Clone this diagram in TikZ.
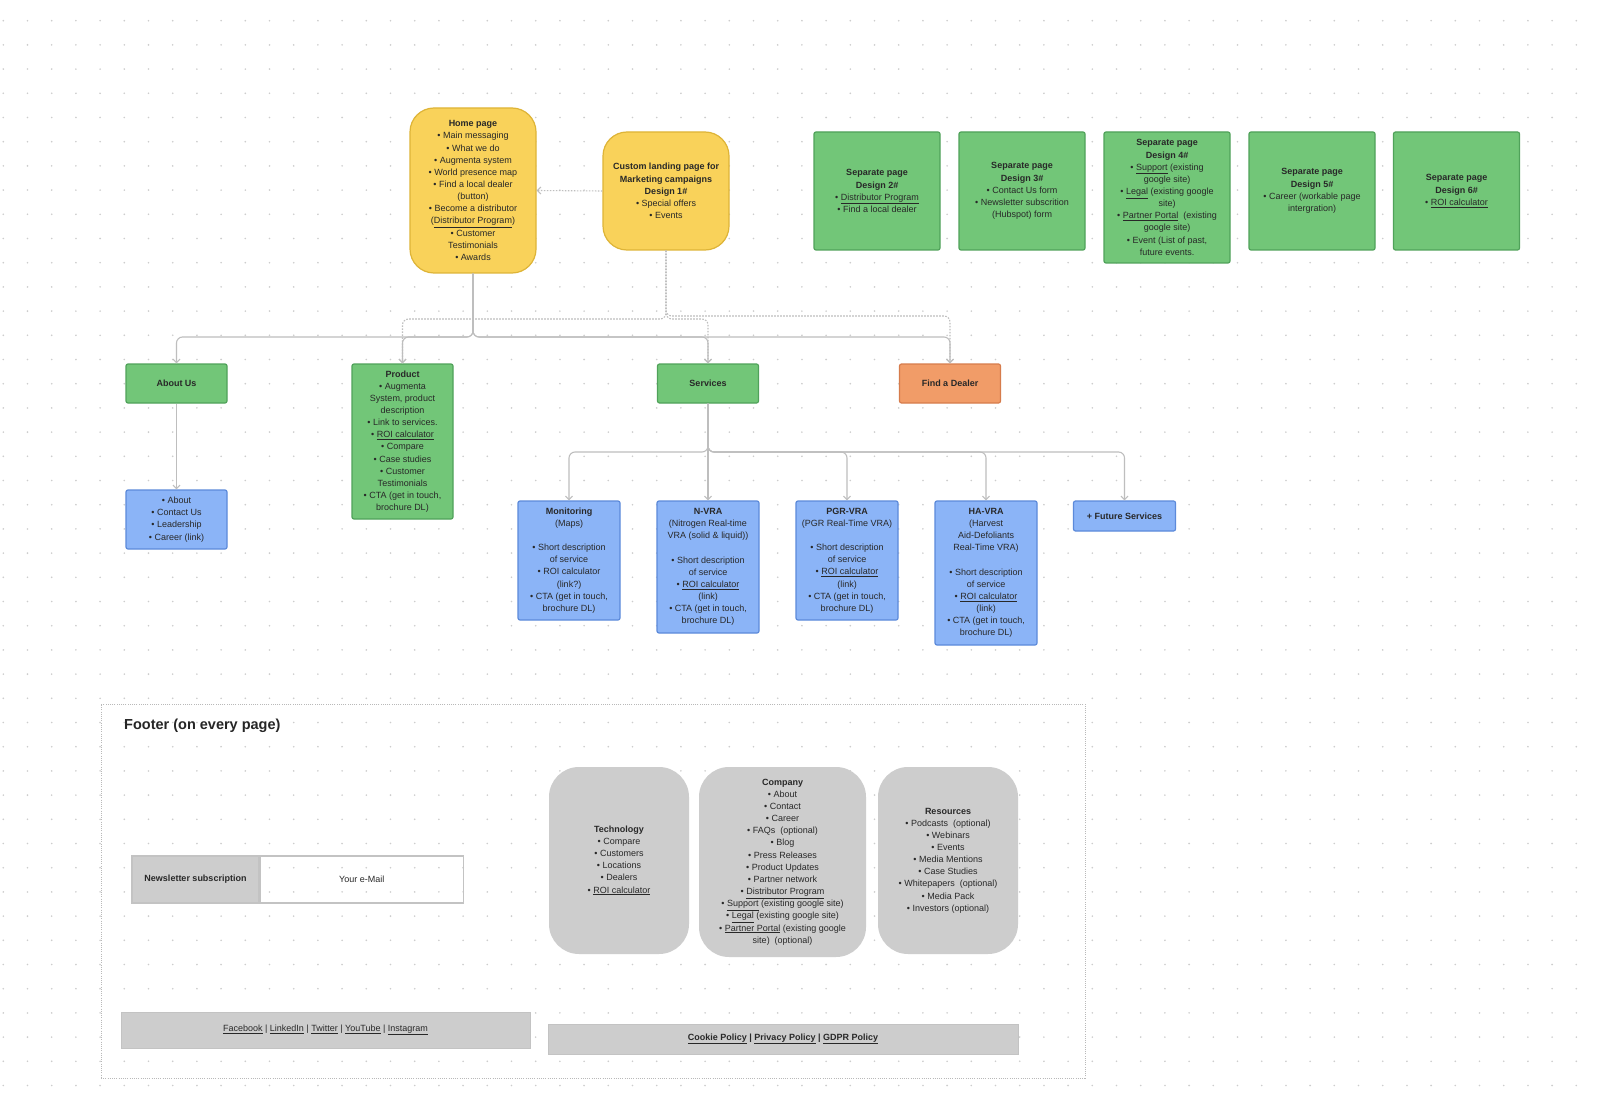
\documentclass[tikz,border=0pt]{standalone}
\usepackage{fontspec}
\setmainfont{Liberation Sans}
\usetikzlibrary{arrows.meta,calc}
\definecolor{dotc}{RGB}{205,205,205}
\definecolor{txt}{RGB}{40,40,40}
\definecolor{yelf}{RGB}{249,210,90}
\definecolor{yeld}{RGB}{222,180,55}
\definecolor{grnf}{RGB}{114,198,120}
\definecolor{grnd}{RGB}{80,162,90}
\definecolor{bluf}{RGB}{139,180,247}
\definecolor{blud}{RGB}{92,138,218}
\definecolor{orgf}{RGB}{241,156,104}
\definecolor{orgd}{RGB}{214,124,76}
\definecolor{gryf}{RGB}{205,205,205}
\definecolor{gryd}{RGB}{195,195,195}
\definecolor{linc}{RGB}{190,190,190}
\definecolor{frmc}{RGB}{185,185,185}
\newcommand\boxfnt{\fontsize{9}{12.15}\selectfont}
\newcommand\titlefnt{\fontsize{14.5}{17}\selectfont\bfseries}
\begin{document}
\begin{tikzpicture}[x=1pt,y=-1pt,
  box/.style={draw, line width=1.2pt, align=center, inner sep=2pt, font=\boxfnt, text=txt},
  yel/.style={box, fill=yelf, draw=yeld, rounded corners=24pt, minimum width=126pt},
  grn/.style={box, fill=grnf, draw=grnd, rounded corners=2pt},
  blu/.style={box, fill=bluf, draw=blud, rounded corners=2pt},
  org/.style={box, fill=orgf, draw=orgd, rounded corners=2pt},
  sepbox/.style={grn, minimum width=126pt, minimum height=118pt},
  navbox/.style={minimum width=101pt, minimum height=39pt},
  svcbox/.style={blu, minimum width=102pt},
  gbox/.style={fill=gryf, align=center, font=\boxfnt, text=txt, rounded corners=30pt, inner sep=2pt},
  barbox/.style={fill=gryf, draw=gryd, line width=0.8pt, align=center, font=\boxfnt, text=txt},
  conn/.style={draw=linc, line width=1.1pt, rounded corners=6pt, -{Straight Barb[length=3.5pt,width=7pt]}},
  dconn/.style={conn, dash pattern=on 1.6pt off 1.4pt}
]
\useasboundingbox (0,0) rectangle (1600,1099);
\fill[white] (0,0) rectangle (1600,1099);
\foreach \i in {0,...,65}{\foreach \j in {0,...,44}{\fill[dotc] (3.3+24.2*\i,20.7+24.2*\j) circle (0.9pt);}}

% top row
\node[yel, minimum height=165pt] (home) at (473,190.5) {\textbf{Home page}\\ • Main messaging\\ • What we do\\ • Augmenta system\\ • World presence map\\ • Find a local dealer\\ (button)\\ • Become a distributor\\ (\underline{Distributor Program})\\ • Customer\\ Testimonials\\ • Awards};
\node[yel, minimum height=118pt] (custom) at (666,191) {\textbf{Custom landing page for}\\ \textbf{Marketing campaigns}\\ \textbf{Design 1\#}\\ • Special offers\\ • Events};

\node[sepbox] (sep2) at (877,191) {\textbf{Separate page}\\ \textbf{Design 2\#}\\ • \underline{Distributor Program}\\ • Find a local dealer};
\node[sepbox] (sep3) at (1022,191) {\textbf{Separate page}\\ \textbf{Design 3\#}\\ • Contact Us form\\ • Newsletter subscrition\\ (Hubspot) form};
\node[sepbox, minimum height=131pt] (sep4) at (1167,197.5) {\textbf{Separate page}\\ \textbf{Design 4\#}\\ • \underline{Support} (existing\\ google site)\\ • \underline{Legal} (existing google\\ site)\\ • \underline{Partner Portal}\ \ (existing\\ google site)\\ • Event (List of past,\\ future events.};
\node[sepbox] (sep5) at (1312,191) {\textbf{Separate page}\\ \textbf{Design 5\#}\\ • Career (workable page\\ intergration)};
\node[sepbox] (sep6) at (1456.5,191) {\textbf{Separate page}\\ \textbf{Design 6\#}\\ • \underline{ROI calculator}};

% second row
\node[grn, navbox] (about) at (176.5,383.5) {\textbf{About Us}};
\node[grn, minimum width=101pt, minimum height=155pt] (product) at (402.5,441.5) {\textbf{Product}\\ • Augmenta\\ System, product\\ description\\ • Link to services.\\ • \underline{ROI calculator}\\ • Compare\\ • Case studies\\ • Customer\\ Testimonials\\ • CTA (get in touch,\\ brochure DL)};
\node[grn, navbox] (services) at (708,383.5) {\textbf{Services}};
\node[org, navbox] (dealer) at (950,383.5) {\textbf{Find a Dealer}};

\node[blu, minimum width=101pt, minimum height=59pt] (aboutlist) at (176.5,519.5) {• About\\ • Contact Us\\ • Leadership\\ • Career (link)};

\node[svcbox, minimum height=119pt] (mon) at (569,560.5) {\textbf{Monitoring}\\ (Maps)\\[12.15pt] • Short description\\ of service\\ • ROI calculator\\ (link?)\\ • CTA (get in touch,\\ brochure DL)};
\node[svcbox, minimum height=132pt] (nvra) at (708,567) {\textbf{N-VRA}\\ (Nitrogen Real-time\\ VRA (solid \& liquid))\\[12.15pt] • Short description\\ of service\\ • \underline{ROI calculator}\\ (link)\\ • CTA (get in touch,\\ brochure DL)};
\node[svcbox, minimum height=119pt] (pgr) at (847,560.5) {\textbf{PGR-VRA}\\ (PGR Real-Time VRA)\\[12.15pt] • Short description\\ of service\\ • \underline{ROI calculator}\\ (link)\\ • CTA (get in touch,\\ brochure DL)};
\node[svcbox, minimum height=144pt] (havra) at (986,573) {\textbf{HA-VRA}\\ (Harvest\\ Aid-Defoliants\\ Real-Time VRA)\\[12.15pt] • Short description\\ of service\\ • \underline{ROI calculator}\\ (link)\\ • CTA (get in touch,\\ brochure DL)};
\node[svcbox, minimum height=30pt] (future) at (1124.5,516) {\textbf{+ Future Services}};

% connectors
\coordinate (hj) at (473,337);
\coordinate (cj1) at (666,319);
\coordinate (cj2) at (666,316);
\coordinate (sj) at (708,452);
\draw[dconn] (custom.west) -- (home.east);
\draw[conn] (home.south) -- (hj) -| (about.north);
\draw[conn] (home.south) -- (hj) -| (product.north);
\draw[conn] (home.south) -- (hj) -| (services.north);
\draw[conn] (home.south) -- (hj) -| (dealer.north);
\draw[dconn] (custom.south) -- (cj1) -| (product.north);
\draw[dconn] (custom.south) -- (cj1) -| (services.north);
\draw[dconn] (custom.south) -- (cj2) -| (dealer.north);
\draw[conn] (about.south) -- (aboutlist.north);
\draw[conn] (services.south) -- (sj) -| (mon.north);
\draw[conn] (services.south) -- (sj) -| (nvra.north);
\draw[conn] (services.south) -- (sj) -| (pgr.north);
\draw[conn] (services.south) -- (sj) -| (havra.north);
\draw[conn] (services.south) -- (sj) -| (future.north);

% footer
\node[draw=frmc, line width=0.9pt, dash pattern=on 1pt off 1.2pt, minimum width=984pt, minimum height=374pt, inner sep=0pt] (footer) at (593,891) {};
\node[anchor=west, font=\titlefnt, text=black!85, inner sep=0pt] (ftitle) at (124,726) {Footer (on every page)};
\node[draw=gryd, fill=gryf, line width=1.2pt, minimum width=127pt, minimum height=47pt, font=\boxfnt, text=txt] (nl) at (195.5,879.5) {\textbf{Newsletter subscription}};
\node[draw=gryd, line width=1.2pt, minimum width=203pt, minimum height=47pt, font=\boxfnt, text=txt, anchor=west] (mail) at (nl.east) {Your e-Mail};

\node[gbox, minimum width=140pt, minimum height=187pt] (tech) at (619,860.5) {\textbf{Technology}\\ • Compare\\ • Customers\\ • Locations\\ • Dealers\\ • \underline{ROI calculator}};
\node[gbox, minimum width=167pt, minimum height=190pt] (company) at (782.5,862) {\textbf{Company}\\ • About\\ • Contact\\ • Career\\ • FAQs\ \ (optional)\\ • Blog\\ • Press Releases\\ • Product Updates\\ • Partner network\\ • \underline{Distributor Program}\\ • \underline{Support} (existing google site)\\ • \underline{Legal} (existing google site)\\ • \underline{Partner Portal} (existing google\\ site)\ \ (optional)};
\node[gbox, minimum width=140pt, minimum height=187pt] (resources) at (948,860.5) {\textbf{Resources}\\ • Podcasts\ \ (optional)\\ • Webinars\\ • Events\\ • Media Mentions\\ • Case Studies\\ • Whitepapers\ \ (optional)\\ • Media Pack\\ • Investors (optional)};

\node[barbox, minimum width=409pt, minimum height=36pt] (social) at (325.5,1030) {\underline{Facebook} | \underline{LinkedIn} | \underline{Twitter} | \underline{YouTube} | \underline{Instagram}};
\node[barbox, minimum width=470pt, minimum height=30pt] (policy) at (783,1039) {\textbf{\underline{Cookie Policy} | \underline{Privacy Policy} | \underline{GDPR Policy}}};
\end{tikzpicture}
\end{document}
